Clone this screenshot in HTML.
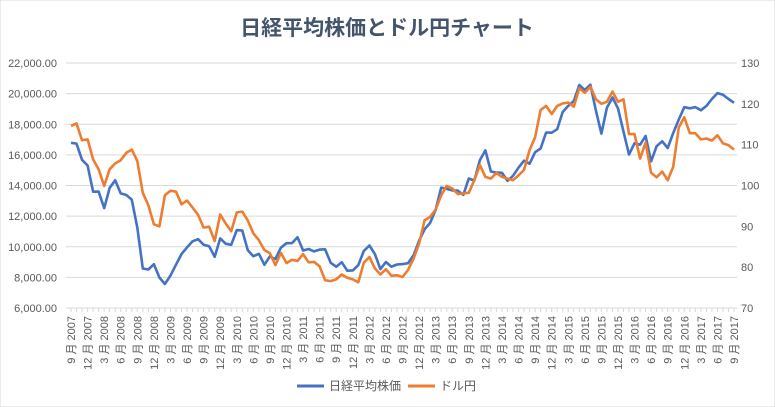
<!DOCTYPE html>
<html><head><meta charset="utf-8"><style>
body{margin:0;background:#fff;}
svg{display:block;font-family:"Liberation Sans","Noto Sans CJK JP",sans-serif;}
</style></head><body>
<svg id="chart" width="775" height="407" viewBox="0 0 775 407">
<rect x="0" y="0" width="775" height="407" fill="#fff" stroke="#d9d9d9"/>
<text x="387" y="35" text-anchor="middle" font-size="21" font-weight="600" fill="#44546a">日経平均株価とドル円チャート</text>
<g id="grid"></g><g id="axes"></g><g id="series"></g>
<g>
<line x1="297" y1="386" x2="324" y2="386" stroke="#4472c4" stroke-width="3"/>
<text x="329" y="390" font-size="12" fill="#595959">日経平均株価</text>
<line x1="408" y1="386" x2="435" y2="386" stroke="#ed7d31" stroke-width="3"/>
<text x="440" y="390" font-size="12" fill="#595959">ドル円</text>
</g>
</svg>
<script>
const startYear = 2007, startMonth = 9;
const nikkei = [16786,16738,15681,15308,
13593,13604,12526,13850,14339,13482,13377,13073,11260,8577,8512,8860,
7994,7568,8110,8828,9523,9958,10357,10493,10133,10035,9346,10546,
10198,10126,11090,11057,9769,9383,9537,8824,9369,9202,9937,10229,
10238,10624,9755,9850,9694,9816,9833,8955,8700,8988,8434,8455,
8803,9723,10084,9521,8543,9007,8695,8840,8870,8928,9446,10395,
11139,11559,12398,13860,13775,13677,13668,13389,14456,14328,15662,16291,
14915,14841,14828,14304,14632,15162,15621,15425,16174,16414,17460,17451,
17674,18798,19207,19520,20563,20236,20585,18890,17388,19083,19747,19034,
17518,16027,16759,16666,17235,15576,16569,16887,16450,17425,18308,19114,
19041,19119,18909,19197,19651,20033,19925,19646,19400];
const usdjpy = [114.6,115.2,111.1,111.3,106.4,104,99.9,104,105.4,106.2,108,108.8,106,98.2,95.2,90.5,90,97.6,98.7,98.5,
95.4,96.3,94.6,92.8,89.7,89.9,86.4,92.9,90.7,88.8,93.4,93.6,91.4,88.3,86.6,84.2,83.4,80.5,83.5,81,
81.8,81.5,83.2,81.2,81.3,80.2,76.8,76.6,77,78.2,77.4,77,76.3,81.1,82.5,79.7,78.2,79.5,77.9,78,
77.6,79.3,82.1,85.8,91.5,92.3,94.1,97.6,99.9,99.3,97.9,98.1,98.2,101.3,105,102.1,101.7,103.1,102.1,101.7,
101.3,102.5,103.8,108.7,111.8,118.5,119.5,117.5,119.5,120.1,120.3,119.3,123.8,122.7,124.2,121.1,120,120.5,123,120.5,
121.1,112.6,112.6,106.6,110.5,103.1,102,103.4,101.3,104.6,114.2,116.7,112.8,112.8,111.3,111.5,111,112.3,110.3,109.9,108.8];
const leftTicks = [6000,8000,10000,12000,14000,16000,18000,20000,22000];
const rightTicks = [70,80,90,100,110,120,130];

const NS="http://www.w3.org/2000/svg";
const X0=71, X1=734, Y0=308, Y1=63;
const n = nikkei.length;
function xPos(i){return X0+(X1-X0)*i/(n-1);}
function yL(v){return Y0-(v-6000)/(22000-6000)*(Y0-Y1);}
function yR(v){return Y0-(v-70)/(130-70)*(Y0-Y1);}
function mk(tag,attrs,parent){const e=document.createElementNS(NS,tag);for(const k in attrs)e.setAttribute(k,attrs[k]);parent.appendChild(e);return e;}
const grid=document.getElementById('grid'), axes=document.getElementById('axes'), ser=document.getElementById('series');
leftTicks.forEach(v=>{
  const g=mk('line',{x1:66,x2:737,y1:yL(v),y2:yL(v),stroke:'#d9d9d9','stroke-width':1},grid);
  
  
  const t=mk('text',{x:57,y:yL(v)+4,'text-anchor':'end','font-size':11,fill:'#595959'},axes);
  t.textContent=v.toLocaleString('en-US',{minimumFractionDigits:2});
  
  
});
rightTicks.forEach(v=>{
  const t=mk('text',{x:741,y:yR(v)+4,'font-size':11,fill:'#595959'},axes);
  t.textContent=v;
  
  
});
for(let i=0;i<n;i++){
  const x=xPos(i);
  const tk=mk('line',{x1:x,x2:x,y1:Y0,y2:Y0+4,stroke:'#d9d9d9'},axes);
  
  
  if(i%3===0){
    const m=(startMonth-1+i)%12+1, y=startYear+Math.floor((startMonth-1+i)/12);
    const t=mk('text',{x:0,y:0,'text-anchor':'end','font-size':11,fill:'#595959',transform:`translate(${x+4},316) rotate(-90)`},axes);
    t.textContent=m+' 月 '+y;
    
    
  }
}
function line(data,fy,color,name){
  const p=mk('polyline',{points:data.map((v,i)=>xPos(i).toFixed(1)+','+fy(v).toFixed(1)).join(' '),fill:'none',stroke:color,'stroke-width':2.6,'stroke-linejoin':'round'},ser);
  
  
}
line(nikkei,yL,'#4472c4','nikkei-line');
line(usdjpy,yR,'#ed7d31','usdjpy-line');
</script>
</body></html>
